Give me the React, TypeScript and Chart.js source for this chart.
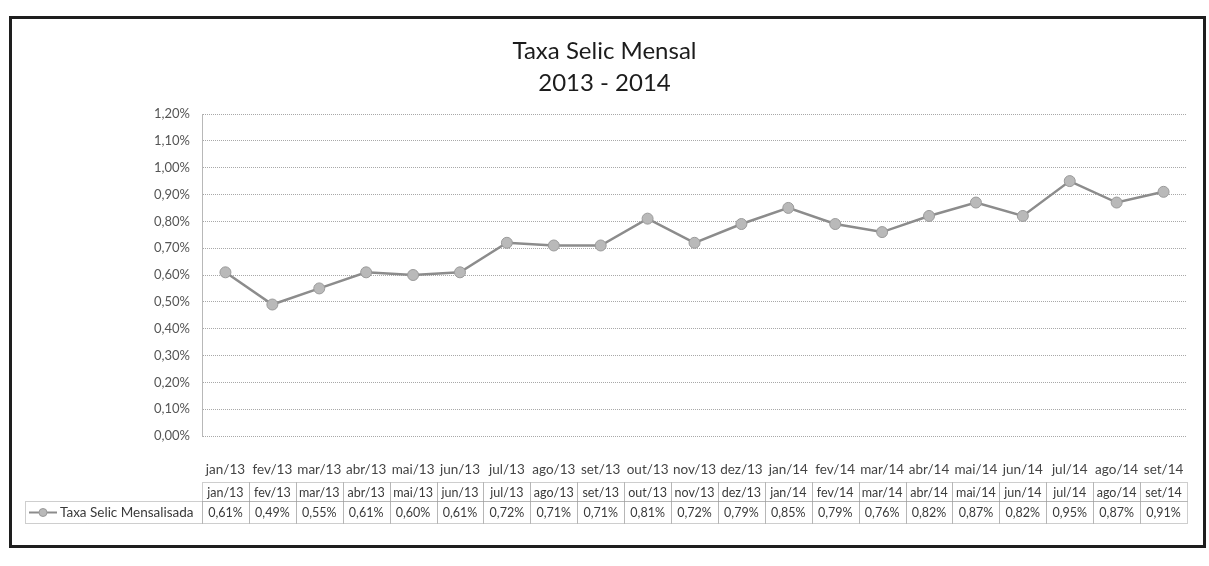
import React, { useEffect, useRef } from 'react';
import { Chart, registerables } from 'chart.js';

Chart.register(...registerables);

const titleLines = ['Taxa Selic Mensal', '2013 - 2014'];
const seriesName = 'Taxa Selic Mensalisada';
const categories = [
  'jan/13', 'fev/13', 'mar/13', 'abr/13', 'mai/13', 'jun/13', 'jul/13',
  'ago/13', 'set/13', 'out/13', 'nov/13', 'dez/13', 'jan/14', 'fev/14',
  'mar/14', 'abr/14', 'mai/14', 'jun/14', 'jul/14', 'ago/14', 'set/14',
];
const selicValues = [
  0.61, 0.49, 0.55, 0.61, 0.6, 0.61, 0.72,
  0.71, 0.71, 0.81, 0.72, 0.79, 0.85, 0.79,
  0.76, 0.82, 0.87, 0.82, 0.95, 0.87, 0.91,
];
const yMin = 0;
const yMax = 1.2;
const yStep = 0.1;

const FONT = 'Lato, "Open Sans", sans-serif';
const fmtPct = (v: number) => v.toFixed(2).replace('.', ',') + '%';

const LINE_COLOR = '#8c8c8c';
const MARKER_FILL = '#b9b9b9';
const MARKER_BORDER = '#9a9a9a';

const dataTablePlugin = {
  id: 'dataTable',
  afterDraw(chart: any) {
    const ctx: CanvasRenderingContext2D = chart.ctx;
    const x = chart.scales.x;
    const labels: string[] = chart.data.labels;
    const ds = chart.data.datasets[0];
    const n = labels.length;
    const w = (x.right - x.left) / n;
    const top = 482;
    const mid = 501;
    const bot = 523;
    const legendLeft = 25;
    ctx.save();
    ctx.strokeStyle = '#9d9d9d';
    ctx.lineWidth = 1;
    ctx.setLineDash([1, 1]);
    for (let i = 0; i < n; i++) {
      const left = Math.round(x.getPixelForValue(i) - w / 2) + 0.5;
      const right = Math.round(x.getPixelForValue(i) + w / 2) + 0.5;
      ctx.strokeRect(left, top + 0.5, right - left, mid - top);
      ctx.strokeRect(left, mid + 0.5, right - left, bot - mid);
    }
    ctx.strokeRect(legendLeft + 0.5, mid + 0.5, Math.round(x.left) - legendLeft, bot - mid);
    ctx.setLineDash([]);

    ctx.fillStyle = '#3a3a3a';
    ctx.font = `12.5px ${FONT}`;
    ctx.textAlign = 'center';
    ctx.textBaseline = 'middle';
    for (let i = 0; i < n; i++) {
      const cx = x.getPixelForValue(i);
      ctx.fillText(labels[i], cx, (top + mid) / 2 + 1);
      ctx.fillText(fmtPct(ds.data[i]), cx, (mid + bot) / 2 + 1);
    }
    // legend key
    const ly = (mid + bot) / 2 + 0.5;
    ctx.strokeStyle = LINE_COLOR;
    ctx.lineWidth = 2;
    ctx.beginPath();
    ctx.moveTo(29, ly);
    ctx.lineTo(57, ly);
    ctx.stroke();
    ctx.beginPath();
    ctx.arc(43, ly, 4, 0, Math.PI * 2);
    ctx.fillStyle = MARKER_FILL;
    ctx.fill();
    ctx.strokeStyle = MARKER_BORDER;
    ctx.lineWidth = 1;
    ctx.stroke();
    ctx.fillStyle = '#3a3a3a';
    ctx.textAlign = 'left';
    ctx.font = `13.5px ${FONT}`;
    ctx.fillText(ds.label, 60, (mid + bot) / 2 + 1);
    ctx.restore();
  },
};

export default function App() {
  const canvasRef = useRef<HTMLCanvasElement | null>(null);

  useEffect(() => {
    if (!canvasRef.current) return;
    const chart = new Chart(canvasRef.current, {
      type: 'line',
      data: {
        labels: categories,
        datasets: [
          {
            label: seriesName,
            data: selicValues,
            borderColor: LINE_COLOR,
            borderWidth: 2.5,
            pointRadius: 5.5,
            pointBackgroundColor: MARKER_FILL,
            pointBorderColor: MARKER_BORDER,
            pointBorderWidth: 1,
            tension: 0,
            fill: false,
            yAxisID: 'y',
          },
        ],
      },
      plugins: [dataTablePlugin],
      options: {
        animation: false,
        responsive: false,
        devicePixelRatio: 1,
        layout: { padding: { left: 0, right: 0, top: 0, bottom: 90 } },
        plugins: {
          legend: { display: false },
          tooltip: { enabled: false },
          title: {
            display: true,
            text: titleLines,
            color: '#1c1c1c',
            font: { family: FONT, size: 24, weight: 'normal', lineHeight: 1.3 },
            padding: { top: 36, bottom: 15.6 },
          },
        },
        scales: {
          x: {
            type: 'category',
            offset: true,
            grid: { display: false },
            border: { display: false },
            ticks: {
              color: '#444',
              font: { family: FONT, size: 13.5 },
              padding: 18,
              maxRotation: 0,
              autoSkip: false,
            },
            afterFit: (s: any) => { s.height = 40; },
          },
          y: {
            type: 'linear',
            position: 'left',
            min: yMin,
            max: yMax,
            ticks: {
              stepSize: yStep,
              color: '#555',
              font: { family: FONT, size: 13 },
              padding: 12,
              callback: (v: any) => fmtPct(Number(v)),
            },
            grid: { color: '#a8a8a8', lineWidth: 1, drawTicks: false },
            border: { display: true, color: '#b8b8b8', width: 1, dash: [1, 1] },
            afterFit: (s: any) => { s.width = 202; },
          },
          y2: {
            type: 'linear',
            position: 'right',
            display: true,
            grid: { display: false },
            ticks: { display: false },
            border: { display: false },
            afterFit: (s: any) => { s.width = 22; },
          },
        },
      },
    });
    return () => chart.destroy();
  }, []);

  return (
    <div style={{ position: 'absolute', left: 0, top: 0, width: 1209, height: 566, background: '#fff' }}>
      <canvas ref={canvasRef} width={1209} height={566} style={{ width: 1209, height: 566, display: 'block' }} />
      <div
        style={{
          position: 'absolute',
          left: 9,
          top: 16,
          width: 1197,
          height: 532,
          border: '3px solid #1e1e1e',
          boxSizing: 'border-box',
          pointerEvents: 'none',
        }}
      />
    </div>
  );
}
